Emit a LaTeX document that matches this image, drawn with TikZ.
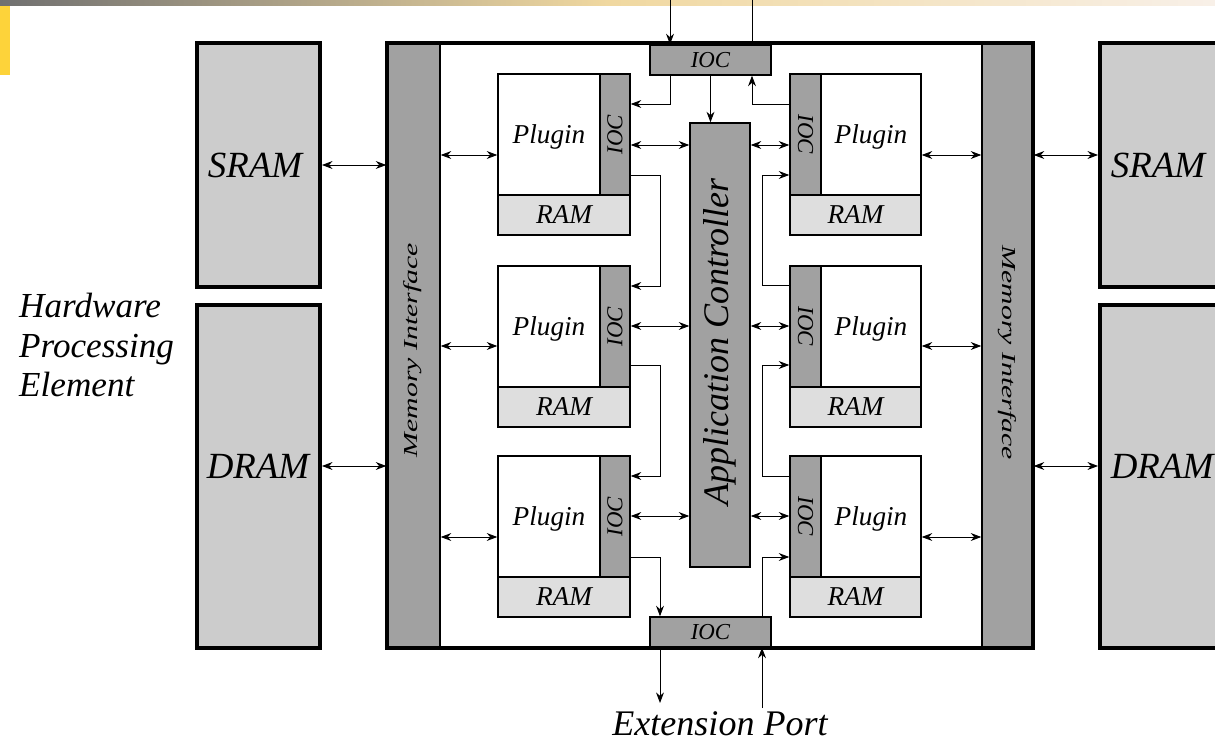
\documentclass[tikz,border=0pt]{standalone}
\usepackage{fontspec}
\setmainfont{Liberation Serif}
\usepackage{graphicx}
\usetikzlibrary{fit,arrows.meta}

\definecolor{memgray}{gray}{0.80}
\definecolor{ctlgray}{gray}{0.63}
\definecolor{ramgray}{gray}{0.87}
\definecolor{barL}{HTML}{707070}
\definecolor{barM}{HTML}{F0D8A0}
\definecolor{barR}{HTML}{F8F0E8}
\definecolor{tabyellow}{HTML}{FDD33A}

\tikzset{
  membox/.style={draw, line width=2.2pt, fill=memgray, inner sep=0pt},
  ctlbox/.style={draw, line width=0.8pt, fill=ctlgray, inner sep=0pt},
  rambox/.style={draw, line width=0.8pt, fill=ramgray, inner sep=0pt},
  plugbox/.style={draw, line width=0.8pt, fill=white, inner sep=0pt},
  conn/.style={line width=0.5pt, -{Stealth[length=6pt,width=4.5pt]}},
  bidir/.style={line width=0.5pt, {Stealth[length=6pt,width=4.5pt]}-{Stealth[length=6pt,width=4.5pt]}},
  memlabel/.style={font=\fontsize{21}{24}\selectfont\itshape},
  pluglabel/.style={font=\fontsize{15.5}{18}\selectfont\itshape},
  ioclabel/.style={font=\fontsize{13}{15}\selectfont\itshape},
}

\begin{document}
\begin{tikzpicture}[x=0.02cm, y=-0.02cm]
\useasboundingbox (0,0) rectangle (1215,743);

% slide decoration
\shade[left color=barL, right color=barR, middle color=barM] (0,0) rectangle (1215,6);
\fill[tabyellow] (0,6) rectangle (10,75);

% external memories
\node[membox, fit={(197,43) (320,287)}] (sramL) {};
\node[memlabel] (sramLt) at (255,165) {SRAM};
\node[membox, fit={(197,305) (320,648)}] (dramL) {};
\node[memlabel] (dramLt) at (258,466) {DRAM};
\node[membox, fit={(1100,43) (1245,287)}] (sramR) {};
\node[memlabel] (sramRt) at (1158,165) {SRAM};
\node[membox, fit={(1100,305) (1245,648)}] (dramR) {};
\node[memlabel] (dramRt) at (1162,466) {DRAM};

\node[font=\fontsize{20}{22.7}\selectfont\itshape, align=left, anchor=west] (hpe) at (13,345)
  {Hardware\\Processing\\Element};

% the board
\node[ctlbox, fit={(387,43) (440,648)}] (memL) {};
\node[ctlbox, fit={(982,43) (1033,648)}] (memR) {};
\node[draw, line width=2.2pt, inner sep=0pt, fit={(387,43) (1033,648)}] (board) {};
\node[font=\fontsize{11.3}{13}\selectfont\itshape, rotate=90] (memLt) at (413,350)
  {\scalebox{1.5}[1]{Memory Interface}};
\node[font=\fontsize{11.3}{13}\selectfont\itshape, rotate=-90] (memRt) at (1007,353)
  {\scalebox{1.5}[1]{Memory Interface}};

\node[ctlbox, fit={(690,123) (750,567)}] (appc) {};
\node[font=\fontsize{20.5}{24}\selectfont\itshape, rotate=90] (appct) at (720,342) {Application Controller};

\node[ctlbox, fit={(650,45) (771,75)}] (iocT) {};
\node[ioclabel] (iocTt) at (iocT) {IOC};
\node[ctlbox, fit={(650,617) (771,647)}] (iocB) {};
\node[ioclabel] (iocBt) at (iocB) {IOC};

% plugins
\foreach \i/\t/\b/\m in {1/74/145/155, 2/266/326/346, 3/456/516/537} {
  \node[plugbox, fit={(498,\t) (630,\t+161)}] (plugL\i) {};
  \node[rambox, fit={(498,\t+121) (630,\t+161)}] (ramL\i) {};
  \node[ctlbox, fit={(600,\t) (630,\t+121)}] (iocL\i) {};
  \node[pluglabel] (plugLt\i) at (549,\t+63) {Plugin};
  \node[pluglabel] (ramLt\i) at (ramL\i) {RAM};
  \node[ioclabel, rotate=90] (iocLt\i) at (iocL\i) {IOC};

  \node[plugbox, fit={(790,\t) (921,\t+161)}] (plugR\i) {};
  \node[rambox, fit={(790,\t+121) (921,\t+161)}] (ramR\i) {};
  \node[ctlbox, fit={(790,\t) (821,\t+121)}] (iocR\i) {};
  \node[pluglabel] (plugRt\i) at (871,\t+63) {Plugin};
  \node[pluglabel] (ramRt\i) at (ramR\i) {RAM};
  \node[ioclabel, rotate=-90] (iocRt\i) at (iocR\i) {IOC};

  \draw[bidir] (iocL\i.east |- 0,\b) -- (appc.west |- 0,\b);
  \draw[bidir] (appc.east |- 0,\b) -- (iocR\i.west |- 0,\b);
  \draw[bidir] (memL.east |- 0,\m) -- (plugL\i.west |- 0,\m);
  \draw[bidir] (plugR\i.east |- 0,\m) -- (memR.west |- 0,\m);
}

% memory links
\draw[bidir] (sramL.east |- 0,165) -- (memL.west |- 0,165);
\draw[bidir] (dramL.east |- 0,466) -- (memL.west |- 0,466);
\draw[bidir] (memR.east |- 0,155) -- (sramR.west |- 0,155);
\draw[bidir] (memR.east |- 0,466) -- (dramR.west |- 0,466);

% IOC chain
\coordinate (topA) at (670,0);
\coordinate (topB) at (752,0);
\coordinate (busL) at (660,0);
\coordinate (busR) at (762,0);
\draw[conn] (topA) -- (iocT.north -| topA);
\draw[line width=0.5pt] (iocT.north -| topB) -- (topB);
\draw[conn] (iocT.south -| topA) |- (iocL1.east |- 0,104);
\draw[conn] (iocT.south) -- (iocT.south |- appc.north);
\draw[conn] (iocR1.west |- 0,104) -| (iocT.south -| topB);

\draw[conn] (iocL1.east |- 0,175) -- (busL |- 0,175) -- (busL |- 0,286) -- (iocL2.east |- 0,286);
\draw[conn] (iocL2.east |- 0,365) -- (busL |- 0,365) -- (busL |- 0,476) -- (iocL3.east |- 0,476);
\draw[conn] (iocL3.east |- 0,557) -| (iocB.north -| busL);

\draw[conn] (iocB.north -| busR) |- (iocR3.west |- 0,557);
\draw[conn] (iocR3.west |- 0,476) -- (busR |- 0,476) -- (busR |- 0,365) -- (iocR2.west |- 0,365);
\draw[conn] (iocR2.west |- 0,285) -- (busR |- 0,285) -- (busR |- 0,175) -- (iocR1.west |- 0,175);

% extension port
\coordinate (extOut) at (660,703);
\coordinate (extIn) at (762,708);
\draw[conn] (iocB.south -| extOut) -- (extOut);
\draw[conn] (extIn) -- (iocB.south -| extIn);
\node[font=\fontsize{20.5}{24}\selectfont\itshape] (ext) at (720,724) {Extension Port};
\end{tikzpicture}
\end{document}
